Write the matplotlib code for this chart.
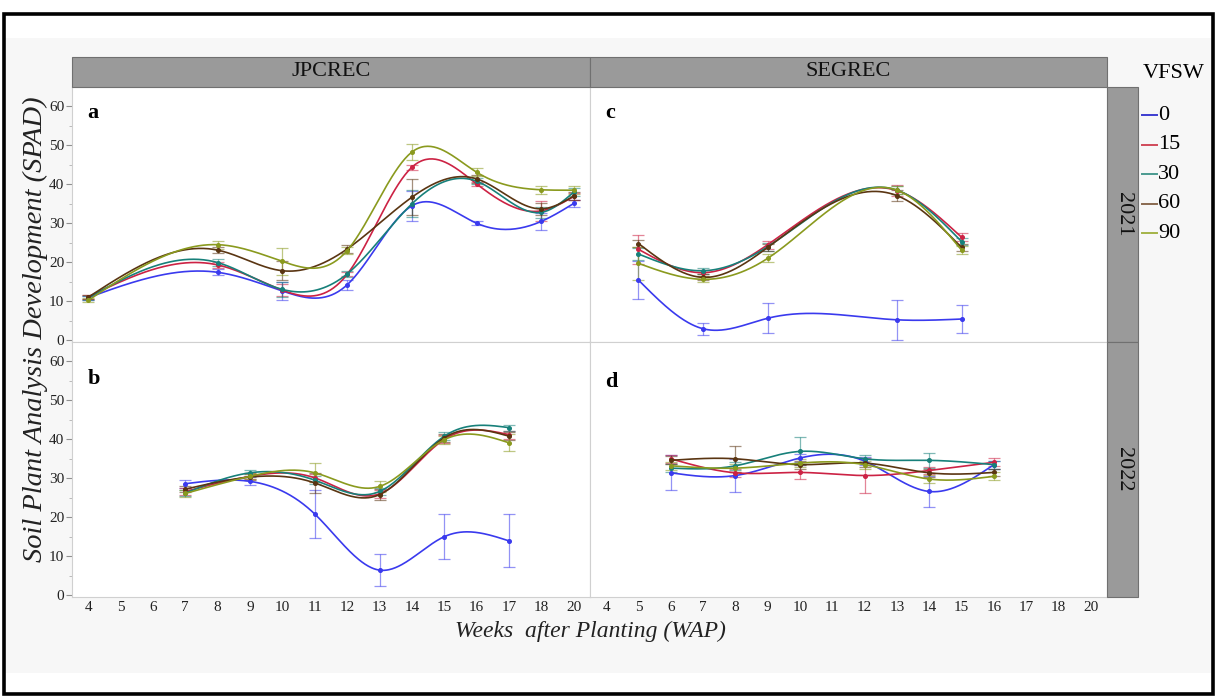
import numpy as np
import matplotlib
matplotlib.use("Agg")
import matplotlib.pyplot as plt
from matplotlib.patches import Rectangle
from matplotlib.lines import Line2D

# ---------------- data ----------------
week_labels = ['4', '5', '6', '7', '8', '9', '10', '11', '12', '13', '14', '15', '16', '17', '18', '20']
vfsw_levels = ['0', '15', '30', '60', '90']

# Panel a: JPCREC 2021
a_weeks = ['4', '8', '10', '12', '14', '16', '18', '20']
a_mean = [
    [10.9, 17.4, 12.6, 14.2, 34.5, 30.0, 30.5, 35.1],
    [11.1, 19.3, 12.8, 16.9, 44.4, 40.1, 33.2, 36.9],
    [10.9, 19.9, 13.0, 17.0, 35.0, 40.8, 32.8, 38.0],
    [11.0, 23.1, 17.8, 23.4, 36.7, 41.4, 33.7, 37.0],
    [10.2, 24.5, 20.2, 23.0, 48.3, 43.1, 38.6, 38.5],
]
a_err = [
    [0.5, 0.8, 2.3, 1.3, 3.8, 0.5, 2.2, 0.8],
    [0.5, 0.8, 1.5, 0.5, 0.6, 0.5, 2.5, 0.8],
    [0.5, 1.0, 2.0, 0.8, 3.5, 0.8, 1.5, 1.0],
    [0.5, 0.8, 2.5, 1.0, 4.6, 1.0, 1.5, 1.0],
    [0.5, 1.0, 3.5, 1.0, 2.0, 1.0, 1.0, 1.0],
]

# Panel b: JPCREC 2022
b_weeks = ['7', '9', '11', '13', '15', '17']
b_mean = [
    [28.6, 29.2, 20.8, 6.4, 15.0, 13.9],
    [26.6, 30.5, 30.1, 26.0, 40.0, 41.2],
    [26.2, 31.4, 29.5, 26.6, 40.8, 43.0],
    [27.2, 30.3, 28.8, 25.8, 40.4, 40.8],
    [26.1, 30.5, 31.4, 27.9, 39.9, 39.1],
]
b_err = [
    [1.0, 1.0, 6.2, 4.2, 5.7, 6.8],
    [0.8, 0.8, 1.0, 1.0, 1.0, 1.0],
    [0.8, 0.8, 1.0, 1.0, 1.0, 0.8],
    [0.8, 0.8, 2.5, 1.5, 1.0, 1.0],
    [0.8, 0.8, 2.4, 1.5, 1.0, 2.2],
]

# Panel c: SEGREC 2021
c_weeks = ['5', '7', '9', '13', '15']
c_mean = [
    [15.4, 2.9, 5.6, 5.2, 5.4],
    [23.3, 17.3, 24.5, 38.4, 26.4],
    [22.1, 17.8, 24.0, 38.5, 25.3],
    [24.8, 16.1, 23.8, 37.1, 23.8],
    [19.7, 15.6, 21.0, 38.5, 23.1],
]
c_err = [
    [4.9, 1.5, 3.8, 5.2, 3.6],
    [3.8, 0.8, 1.0, 1.5, 1.0],
    [1.5, 0.8, 1.0, 1.0, 1.0],
    [1.0, 0.8, 1.0, 1.5, 1.0],
    [4.3, 0.8, 1.0, 1.0, 1.0],
]

# Panel d: SEGREC 2022
d_weeks = ['6', '8', '10', '12', '14', '16']
d_mean = [
    [31.4, 30.7, 35.2, 34.4, 26.6, 33.5],
    [35.0, 31.4, 31.5, 30.7, 32.0, 34.1],
    [32.6, 33.2, 36.9, 35.0, 34.6, 33.5],
    [34.6, 35.0, 33.5, 33.9, 31.4, 31.5],
    [33.2, 32.6, 33.9, 33.5, 29.8, 30.5],
]
d_err = [
    [4.5, 4.2, 1.0, 1.0, 4.1, 1.0],
    [1.0, 1.0, 1.8, 4.4, 1.0, 1.0],
    [1.0, 1.0, 3.6, 1.0, 2.0, 1.0],
    [1.0, 3.4, 1.0, 1.0, 1.0, 1.0],
    [1.0, 1.0, 1.0, 1.0, 1.0, 1.0],
]

line_colors = ['#3a3aee', '#cc2244', '#17807a', '#5a3512', '#8a9a1e']
legend_colors = ['#3c3cd0', '#d04a5a', '#4a9a90', '#8a6a50', '#a4b448']

SERIF = ['Liberation Serif', 'DejaVu Serif']
plt.rcParams['font.family'] = SERIF

W, H = 1217, 698


def fx(px):
    return px / W


def fy(py):
    return 1 - py / H


def natural_spline(x, y, xn):
    x = np.asarray(x, float)
    y = np.asarray(y, float)
    n = len(x)
    h = np.diff(x)
    A = np.zeros((n, n))
    r = np.zeros(n)
    A[0, 0] = 1
    A[-1, -1] = 1
    for i in range(1, n - 1):
        A[i, i - 1] = h[i - 1]
        A[i, i] = 2 * (h[i - 1] + h[i])
        A[i, i + 1] = h[i]
        r[i] = 3 * ((y[i + 1] - y[i]) / h[i] - (y[i] - y[i - 1]) / h[i - 1])
    c = np.linalg.solve(A, r)
    b = (y[1:] - y[:-1]) / h - h * (2 * c[:-1] + c[1:]) / 3
    d = (c[1:] - c[:-1]) / (3 * h)
    idx = np.clip(np.searchsorted(x, xn) - 1, 0, n - 2)
    dx = xn - x[idx]
    return y[idx] + b[idx] * dx + c[idx] * dx ** 2 + d[idx] * dx ** 3


fig = plt.figure(figsize=(W / 100, H / 100), dpi=100)
fig.patch.set_facecolor('white')

# light gray background band and black frame
fig.add_artist(Rectangle((fx(5), fy(673)), fx(1211) - fx(5), fy(38) - fy(673),
                         transform=fig.transFigure, facecolor='#f7f7f7',
                         edgecolor='none', zorder=0))
fig.add_artist(Rectangle((fx(4), fy(694)), fx(1213) - fx(4), fy(14) - fy(694),
                         transform=fig.transFigure, facecolor='none',
                         edgecolor='black', linewidth=2.6, zorder=10))

panel_px = {
    'a': (72, 87, 590, 342),
    'c': (590, 87, 1107, 342),
    'b': (72, 342, 590, 597),
    'd': (590, 342, 1107, 597),
}
panel_data = {
    'a': (a_weeks, a_mean, a_err),
    'b': (b_weeks, b_mean, b_err),
    'c': (c_weeks, c_mean, c_err),
    'd': (d_weeks, d_mean, d_err),
}
letter_pos = {'a': 0.90, 'b': 0.855, 'c': 0.90, 'd': 0.845}

for key, (x0, y0, x1, y1) in panel_px.items():
    ax = fig.add_axes([fx(x0), fy(y1), fx(x1) - fx(x0), fy(y0) - fy(y1)])
    ax.set_facecolor('white')
    for s in ax.spines.values():
        s.set_color('#d0d0d0')
        s.set_linewidth(0.8)
    ax.set_xlim(-0.5, len(week_labels) - 0.5)
    ax.set_ylim(-0.5, 65)
    ax.set_xticks(range(len(week_labels)))
    ax.set_yticks(range(0, 61, 10))
    ax.set_yticks(range(5, 61, 10), minor=True)
    left = key in ('a', 'b')
    bottom = key in ('b', 'd')
    ax.tick_params(axis='y', which='major', length=4 if left else 0, color='#909090',
                   labelleft=left, labelsize=11, labelcolor='#222222', pad=1.5)
    ax.tick_params(axis='y', which='minor', length=2 if left else 0, color='#b0b0b0')
    ax.tick_params(axis='x', length=0, labelbottom=bottom, labelsize=11,
                   labelcolor='#222222', pad=3)
    if bottom:
        ax.set_xticklabels(week_labels)

    weeks, means, errs = panel_data[key]
    xs = np.array([week_labels.index(w) for w in weeks], float)
    xfine = np.linspace(xs[0], xs[-1], 300)
    for i in range(len(vfsw_levels)):
        col = line_colors[i]
        ax.errorbar(xs, means[i], yerr=errs[i], fmt='none', ecolor=col,
                    elinewidth=0.9, capsize=4, capthick=0.9, alpha=0.55, zorder=2)
        ax.plot(xs, means[i], 'o', color=col, markersize=2.6, zorder=3)
        ax.plot(xfine, natural_spline(xs, means[i], xfine), '-', color=col,
                linewidth=1.2, zorder=3)
    ax.text(0.03, letter_pos[key], key, transform=ax.transAxes, fontsize=16,
            fontweight='bold', va='center', ha='left')

# top strips
for (x0, x1, lab) in [(72, 590, 'JPCREC'), (590, 1107, 'SEGREC')]:
    fig.add_artist(Rectangle((fx(x0), fy(87)), fx(x1) - fx(x0), fy(57) - fy(87),
                             transform=fig.transFigure, facecolor='#9a9a9a',
                             edgecolor='#707070', linewidth=0.8, zorder=1))
    fig.text(fx((x0 + x1) / 2), fy(72), lab, ha='center', va='center',
             fontsize=16, color='#111111')

# right strips
for (y0, y1, lab) in [(87, 342, '2021'), (342, 597, '2022')]:
    fig.add_artist(Rectangle((fx(1107), fy(y1)), fx(1138) - fx(1107), fy(y0) - fy(y1),
                             transform=fig.transFigure, facecolor='#9a9a9a',
                             edgecolor='#707070', linewidth=0.8, zorder=1))
    fig.text(fx(1123), fy((y0 + y1) / 2), lab, ha='center', va='center',
             rotation=-90, fontsize=16, color='#111111')

# legend
fig.text(fx(1143), fy(74), 'VFSW', ha='left', va='center', fontsize=16)
for i, lab in enumerate(vfsw_levels):
    yy = 115 + i * 29.6
    fig.add_artist(Line2D([fx(1142), fx(1157)], [fy(yy), fy(yy)],
                          transform=fig.transFigure, color=legend_colors[i],
                          linewidth=1.4))
    fig.text(fx(1158), fy(yy), lab, ha='left', va='center', fontsize=16)

# axis titles
fig.text(fx(35), fy(329), 'Soil Plant Analysis Development (SPAD)', rotation=90,
         ha='center', va='center', fontsize=20.5, fontstyle='italic', color='#222222')
fig.text(fx(590), fy(631), 'Weeks  after Planting (WAP)', ha='center', va='center',
         fontsize=17, fontstyle='italic', color='#222222')

fig.savefig('out.png', dpi=100)
